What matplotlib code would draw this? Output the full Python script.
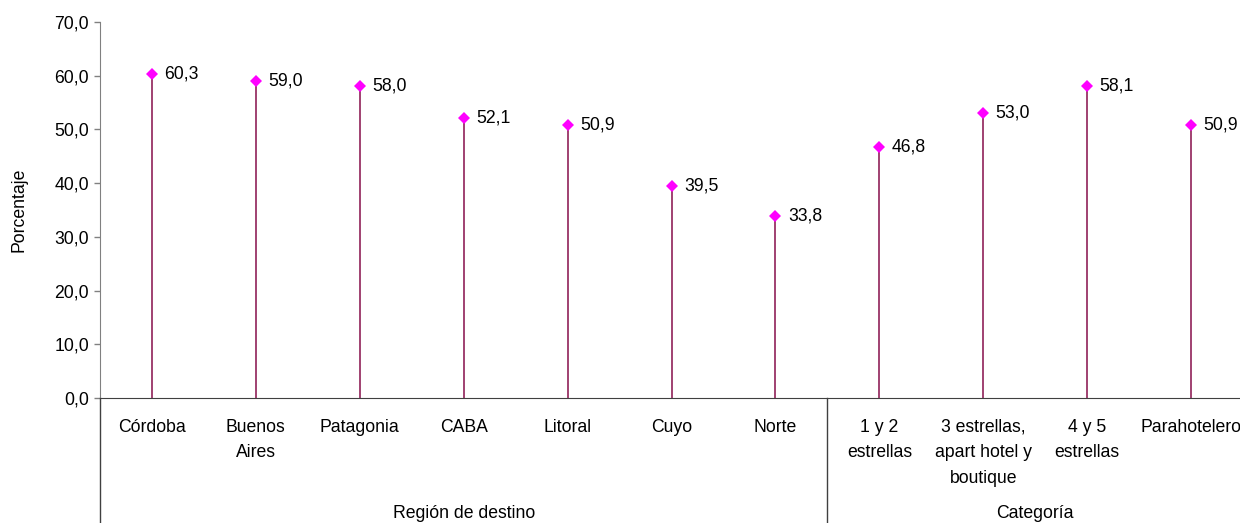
import matplotlib
matplotlib.use("Agg")
import matplotlib.pyplot as plt

plt.rcParams["font.family"] = ["Liberation Sans", "DejaVu Sans"]

# data
categories = ["Córdoba", "Buenos\nAires", "Patagonia", "CABA", "Litoral", "Cuyo",
              "Norte", "1 y 2\nestrellas", "3 estrellas,\napart hotel y\nboutique",
              "4 y 5\nestrellas", "Parahotelero"]
values = [60.3, 59.0, 58.0, 52.1, 50.9, 39.5, 33.8, 46.8, 53.0, 58.1, 50.9]
groups = ["Región de destino", "Categoría"]
group_sizes = [7, 4]
y_ticks = [0, 10, 20, 30, 40, 50, 60, 70]

FS = 12.7


def fmt(v):
    return f"{v:.1f}".replace(".", ",")


fig = plt.figure(figsize=(12.4, 5.23), dpi=100)
ax = fig.add_axes([100 / 1240, 125 / 523, 1143 / 1240, 376 / 523])

x = list(range(len(values)))
ax.vlines(x, 0, values, color="#993366", lw=1.3, zorder=2)
ax.plot(x, values, linestyle="none", marker="D", markersize=6.5,
        color="#FF00FF", mew=0, zorder=3)
for xi, v in zip(x, values):
    ax.annotate(fmt(v), (xi, v), xytext=(9, 0), textcoords="offset points",
                va="center", ha="left", fontsize=FS, color="black")

ax.set_xlim(-0.5, len(values) - 0.5)
ax.set_ylim(0, 70)
ax.set_yticks(y_ticks)
ax.set_yticklabels([fmt(t) for t in y_ticks], fontsize=FS)
ax.tick_params(axis="y", direction="out", length=4, width=1, color="#808080", pad=4)
ax.set_xticks(x)
ax.set_xticklabels(categories, fontsize=FS, linespacing=1.65)
ax.tick_params(axis="x", length=0, pad=15)
ax.set_ylabel("Porcentaje", fontsize=FS, labelpad=19)

for s in ["top", "right"]:
    ax.spines[s].set_visible(False)
ax.spines["left"].set_color("#808080")
ax.spines["bottom"].set_color("#404040")

# group separators and group labels
trans = ax.get_xaxis_transform()
start = -0.5
for name, n in zip(groups, group_sizes):
    end = start + n
    ax.plot([start, start], [0, -0.34], color="#404040", lw=1,
            transform=trans, clip_on=False)
    ax.text((start + end) / 2, -0.307, name, transform=trans, ha="center",
            va="center", fontsize=FS)
    start = end

fig.savefig("out.png", dpi=100)
